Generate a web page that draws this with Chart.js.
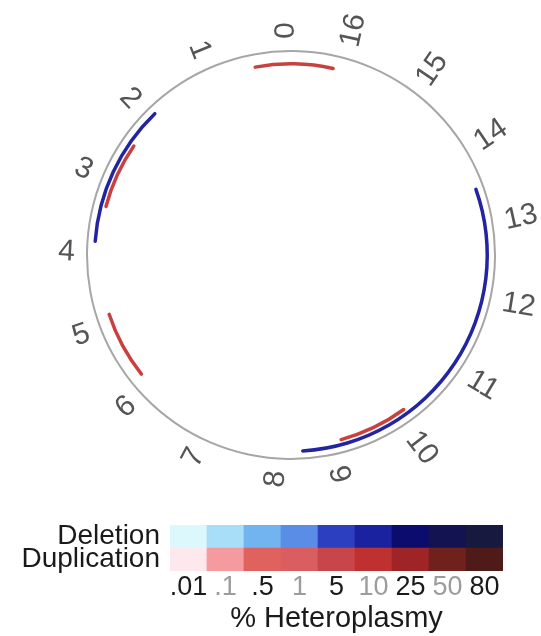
<!DOCTYPE html>
<html>
<head>
<meta charset="utf-8">
<script src="https://cdn.jsdelivr.net/npm/chart.js@4.4.1/dist/chart.umd.min.js"></script>
<style>
  html, body { margin: 0; padding: 0; background: #ffffff; }
  body { width: 541px; height: 636px; position: relative; overflow: hidden; }
  #ring { position: absolute; left: 0; top: 0; }
  #scale { position: absolute; left: 0; top: 505px; }
</style>
</head>
<body>
<canvas id="ring" width="541" height="500"></canvas>
<canvas id="scale" width="541" height="131"></canvas>
<script>
// ---------- data ----------
const genomeLengthKb = 16.569;
const positionTickLabels = ['0','1','2','3','4','5','6','7','8','9','10','11','12','13','14','15','16'];

// deletions (blue) - start / end positions in kb, drawn counter-clockwise
const deletionStartsKb = [2.0, 8.42];
const deletionEndsKb   = [3.98, 13.35];

// duplications (red)
const duplicationStartsKb = [15.96, 2.52, 4.95, 8.96];
const duplicationEndsKb   = [0.52, 3.49, 5.94, 9.97];

// heteroplasmy colour key
const heteroplasmyLevels = ['.01', '.1', '.5', '1', '5', '10', '25', '50', '80'];
const keyRows = ['Duplication', 'Deletion'];
const deletionKeyColors = ['#dcf8fd', '#a9def8', '#72b4ef', '#5a8ee6', '#2b3fc0', '#1b22a0', '#0b0c6e', '#121350', '#171a3e'];
const duplicationKeyColors = ['#fde8ed', '#f59a9f', '#e0625f', '#da5d5f', '#c8464a', '#bf3131', '#9f2426', '#70211d', '#4f1b18'];

const deletionArcColor = '#2324a0';
const duplicationArcColor = '#c8413f';

// ring segments start at a position free of arcs so that no arc is split
const ringOriginKb = 1.0;

// ---------- build ring segments (clockwise order from ringOriginKb) ----------
function buildRing(starts, ends, color) {
  const L = genomeLengthKb;
  const cw = (kb) => (((ringOriginKb - kb) % L) + L) % L;
  let intervals = [];
  for (let i = 0; i < starts.length; i++) {
    // counter-clockwise a->b  ==> clockwise cw(b) -> cw(a)
    const s = cw(ends[i]), e = cw(starts[i]);
    if (s > e) { intervals.push([s, L]); intervals.push([0, e]); }
    else intervals.push([s, e]);
  }
  intervals.sort((p, q) => p[0] - q[0]);
  const data = [], colors = [];
  let pos = 0;
  intervals.forEach(([s, e]) => {
    if (s > pos) { data.push(s - pos); colors.push('rgba(0,0,0,0)'); }
    data.push(e - s); colors.push(color);
    pos = e;
  });
  if (pos < L) { data.push(L - pos); colors.push('rgba(0,0,0,0)'); }
  return { data, colors };
}

const delRing = buildRing(deletionStartsKb, deletionEndsKb, deletionArcColor);
const dupRing = buildRing(duplicationStartsKb, duplicationEndsKb, duplicationArcColor);

Chart.defaults.font.family = "'Liberation Sans', Arial, Helvetica, sans-serif";
Chart.defaults.animation = false;

const ringBase = { borderWidth: 0, hoverOffset: 0, offset: 0 };

const positionLabelsPlugin = {
  id: 'positionLabels',
  afterDatasetsDraw(chart) {
    const arc = chart.getDatasetMeta(0).data[0];
    if (!arc) return;
    const cx = arc.x, cy = arc.y;
    const r0 = arc.outerRadius + 11;   // inner edge of the labels
    const ctx = chart.ctx;
    ctx.save();
    ctx.font = "30px 'Liberation Sans', Arial, sans-serif";
    ctx.fillStyle = '#555555';
    ctx.textBaseline = 'middle';
    positionTickLabels.forEach(lbl => {
      const kb = Number(lbl);
      const th = -kb / genomeLengthKb * Math.PI * 2; // clockwise angle from top
      const ux = Math.sin(th), uy = -Math.cos(th);
      let phi = Math.atan2(uy, ux), outward = true;
      if (phi > Math.PI / 2) { phi -= Math.PI; outward = false; }
      else if (phi <= -Math.PI / 2) { phi += Math.PI; outward = false; }
      const drop = outward ? 13 : 9;
      ctx.save();
      ctx.translate(cx + r0 * ux, cy + r0 * uy);
      ctx.rotate(phi);
      ctx.textAlign = outward ? 'left' : 'right';
      ctx.fillText(lbl, 0, drop);
      ctx.restore();
    });
    ctx.restore();
  }
};

new Chart(document.getElementById('ring'), {
  type: 'doughnut',
  data: {
    datasets: [
      Object.assign({ data: [genomeLengthKb], backgroundColor: ['#a6a6a6'], weight: 2 }, ringBase),
      Object.assign({ data: [genomeLengthKb], backgroundColor: ['rgba(0,0,0,0)'], weight: 5 }, ringBase),
      Object.assign({ data: delRing.data, backgroundColor: delRing.colors, weight: 3.5, borderRadius: 1.7 }, ringBase),
      Object.assign({ data: [genomeLengthKb], backgroundColor: ['rgba(0,0,0,0)'], weight: 1.5 }, ringBase),
      Object.assign({ data: dupRing.data, backgroundColor: dupRing.colors, weight: 3.5, borderRadius: 1.7 }, ringBase)
    ]
  },
  options: {
    responsive: false,
    devicePixelRatio: 1,
    events: [],
    rotation: -ringOriginKb / genomeLengthKb * 360,
    circumference: 360,
    cutout: 189.5,
    layout: { padding: { left: 86, right: 45, top: 50, bottom: 40 } },
    plugins: { legend: { display: false }, tooltip: { enabled: false } }
  },
  plugins: [positionLabelsPlugin]
});

// ---------- heteroplasmy colour key ----------
new Chart(document.getElementById('scale'), {
  type: 'bar',
  data: {
    labels: heteroplasmyLevels,
    datasets: [
      { label: keyRows[0], data: heteroplasmyLevels.map(() => 1), backgroundColor: duplicationKeyColors, borderWidth: 0, barPercentage: 1, categoryPercentage: 1 },
      { label: keyRows[1], data: heteroplasmyLevels.map(() => 1), backgroundColor: deletionKeyColors, borderWidth: 0, barPercentage: 1, categoryPercentage: 1 }
    ]
  },
  options: {
    responsive: false,
    devicePixelRatio: 1,
    events: [],
    layout: { padding: { left: 0, right: 38, top: 20, bottom: 0 } },
    plugins: { legend: { display: false }, tooltip: { enabled: false } },
    scales: {
      x: {
        stacked: true,
        grid: { display: false, drawTicks: false },
        border: { display: false },
        ticks: {
          autoSkip: false, maxRotation: 0, padding: 0,
          font: { size: 27 },
          color: (c) => (c.index % 2 ? '#9c9c9c' : '#1a1a1a')
        },
        title: { display: true, text: '% Heteroplasmy', color: '#1a1a1a', font: { size: 29 }, padding: { top: 0, bottom: 0 } },
        afterFit: (s) => { s.height = 65; s.paddingLeft = 0; s.paddingRight = 0; }
      },
      y: {
        stacked: true,
        min: 0, max: 2,
        grid: { display: false, drawTicks: false },
        border: { display: false },
        afterBuildTicks: (s) => { s.ticks = keyRows.map((_, i) => ({ value: i + 0.5 })); },
        ticks: {
          padding: 10,
          font: { size: 28 },
          color: '#1a1a1a',
          callback: (v) => keyRows[Math.floor(v)]
        },
        afterFit: (s) => { s.width = 170; s.paddingTop = 0; s.paddingBottom = 0; }
      }
    }
  }
});
</script>
</body>
</html>
